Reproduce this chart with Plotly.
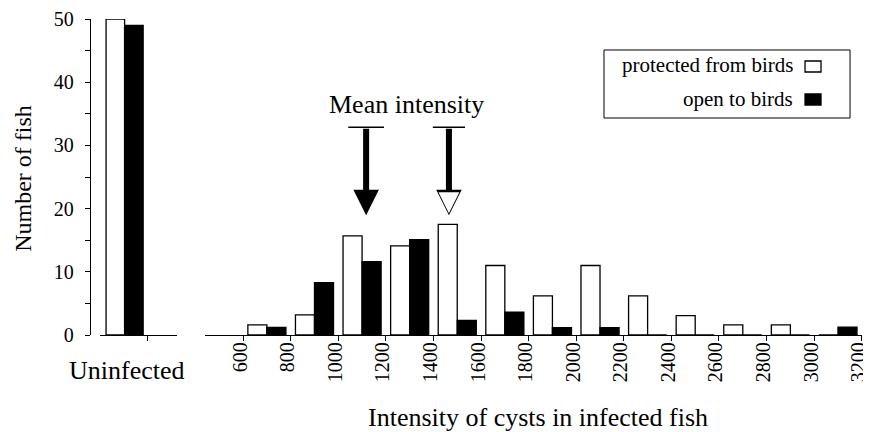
import plotly.graph_objects as go

# ---------------- data ----------------
bin_starts = [600, 800, 1000, 1200, 1400, 1600, 1800, 2000, 2200, 2400, 2600, 2800, 3000]
bin_width = 200
protected_counts = [1.6, 3.2, 15.7, 14.1, 17.5, 11.0, 6.2, 11.0, 6.2, 3.05, 1.6, 1.6, 0]
open_counts = [1.2, 8.3, 11.6, 15.1, 2.3, 3.6, 1.15, 1.15, 0, 0, 0, 0, 1.25]
uninfected_label = ["Uninfected"]
uninfected_protected = [50]
uninfected_open = [49]
mean_open = 1117
mean_protected = 1465
x_tick_vals = [600, 800, 1000, 1200, 1400, 1600, 1800, 2000, 2200, 2400, 2600, 2800, 3000, 3200]
x_tick_text = [str(v) for v in x_tick_vals]
y_tick_vals = [0, 10, 20, 30, 40, 50]
y_minor_vals = [5, 15, 25, 35, 45]
series_names = ["protected from birds", "open to birds"]

bin_centers = [s + bin_width / 2 for s in bin_starts]
label_len = max(len(t) for t in x_tick_text)
x_tick_text_padded = ["\u2007" * (label_len - len(t)) + t for t in x_tick_text]

FONT = "Liberation Serif"
BLACK = "#000000"

fig = go.Figure()

fig.add_trace(go.Bar(x=[0], y=uninfected_protected, name=series_names[0],
                     marker=dict(color="white", line=dict(color=BLACK, width=1.3)),
                     xaxis="x", yaxis="y", showlegend=False))
fig.add_trace(go.Bar(x=[0], y=uninfected_open, name=series_names[1],
                     marker=dict(color=BLACK, line=dict(color=BLACK, width=1.3)),
                     xaxis="x", yaxis="y", showlegend=False))

fig.add_trace(go.Bar(x=bin_centers, y=protected_counts, name=series_names[0],
                     marker=dict(color="white", line=dict(color=BLACK, width=1.3)),
                     xaxis="x2", yaxis="y", showlegend=False))
fig.add_trace(go.Bar(x=bin_centers, y=open_counts, name=series_names[1],
                     marker=dict(color=BLACK, line=dict(color=BLACK, width=1.3)),
                     xaxis="x2", yaxis="y", showlegend=False))

ARROW_TOP = 32.86
ARROW_TIP = 18.96
fig.add_trace(go.Scatter(x=[mean_open], y=[ARROW_TOP], mode="markers",
                         marker=dict(symbol="line-ew", size=25.5, line=dict(color=BLACK, width=1.5)),
                         xaxis="x2", yaxis="y", showlegend=False, hoverinfo="skip"))
fig.add_trace(go.Scatter(x=[mean_protected], y=[ARROW_TOP], mode="markers",
                         marker=dict(symbol="line-ew", size=23, line=dict(color=BLACK, width=1.5)),
                         xaxis="x2", yaxis="y", showlegend=False, hoverinfo="skip"))

axis_common = dict(showgrid=False, zeroline=False, linecolor=BLACK, tickcolor=BLACK,
                   tickwidth=1.3, linewidth=1.3)

yrange = [0, 50]
xr2 = [440, 3201]
fig.update_layout(
    width=863, height=432,
    margin=dict(l=82, r=9, t=11, b=105, autoexpand=False),
    paper_bgcolor="white", plot_bgcolor="white",
    font=dict(family=FONT, color=BLACK, size=20),
    barmode="group", bargap=0.2, bargroupgap=0,
    xaxis=dict(domain=[0.013, 0.1127], range=[-0.53, 1.13], anchor="y",
               showline=True, tickvals=[0.5], ticks="outside", ticklen=5,
               showticklabels=False, **axis_common),
    xaxis3=dict(domain=[0.013, 0.1127], range=[-0.53, 1.13], anchor="y", overlaying="x",
                showline=False, tickvals=[0.5], ticks="inside", ticklen=5,
                showticklabels=False, **axis_common),
    xaxis2=dict(domain=[0.149, 1.0], range=xr2, anchor="y",
                showline=True, tickvals=x_tick_vals, ticktext=x_tick_text_padded,
                ticks="outside", ticklen=5, tickangle=-90, ticklabelstandoff=-7,
                ticklabelshift=-3, ticklabeloverflow="allow",
                tickfont=dict(size=20, family=FONT, color=BLACK), **axis_common),
    xaxis4=dict(domain=[0.149, 1.0], range=xr2, anchor="y", overlaying="x2",
                showline=False, tickvals=x_tick_vals, ticks="inside", ticklen=5,
                showticklabels=False, **axis_common),
    yaxis=dict(domain=[0, 1], range=yrange, anchor="free", position=0,
               showline=True, tickvals=y_tick_vals, ticks="outside", ticklen=5,
               ticklabelstandoff=7,
               minor=dict(tickvals=y_minor_vals, ticks="outside", ticklen=5,
                          tickcolor=BLACK, tickwidth=1.3),
               tickfont=dict(size=20, family=FONT, color=BLACK), **axis_common),
    yaxis3=dict(domain=[0, 1], range=yrange, anchor="free", position=0, overlaying="y",
                showline=False, tickvals=y_tick_vals, ticks="inside", ticklen=5,
                minor=dict(tickvals=y_minor_vals, ticks="inside", ticklen=5,
                           tickcolor=BLACK, tickwidth=1.3),
                showticklabels=False, **axis_common),
)

annotations = []
annotations.append(dict(text="Number of fish", xref="paper", yref="paper", x=-0.0878, y=0.495,
                        textangle=-90, showarrow=False, xanchor="center", yanchor="middle",
                        font=dict(size=24, family=FONT, color=BLACK)))
annotations.append(dict(text="Intensity of cysts in infected fish", xref="paper", yref="paper",
                        x=0.580, y=-0.262, showarrow=False, xanchor="center", yanchor="middle",
                        font=dict(size=26, family=FONT, color=BLACK)))
annotations.append(dict(text=uninfected_label[0], xref="x", yref="paper", x=0.05, y=-0.111,
                        showarrow=False, xanchor="center", yanchor="middle",
                        font=dict(size=26, family=FONT, color=BLACK)))
annotations.append(dict(text="Mean intensity", xref="paper", yref="paper",
                        x=(406.7 - 90) / 772, y=(335 - 104) / 316, showarrow=False,
                        xanchor="center", yanchor="middle",
                        font=dict(size=26, family=FONT, color=BLACK)))

for m in (mean_open, mean_protected):
    annotations.append(dict(text="", x=m, y=ARROW_TIP, xref="x2", yref="y",
                            ax=m, ay=ARROW_TOP, axref="x2", ayref="y",
                            showarrow=True, arrowhead=2, arrowsize=0.85, arrowwidth=6,
                            arrowcolor=BLACK))
annotations.append(dict(text="", x=mean_protected, y=ARROW_TIP, xref="x2", yref="y",
                        ax=mean_protected, ay=ARROW_TIP + 2.3, axref="x2", ayref="y",
                        showarrow=True, arrowhead=2, arrowsize=0.85, arrowwidth=4.9,
                        standoff=2, arrowcolor="white"))

annotations.append(dict(text=series_names[0], xref="paper", yref="paper", x=0.9132, y=0.853,
                        showarrow=False, xanchor="right", yanchor="middle",
                        font=dict(size=21, family=FONT, color=BLACK)))
annotations.append(dict(text=series_names[1], xref="paper", yref="paper", x=0.9132, y=0.748,
                        showarrow=False, xanchor="right", yanchor="middle",
                        font=dict(size=21, family=FONT, color=BLACK)))
fig.update_layout(annotations=annotations)

shapes = [
    dict(type="rect", xref="paper", yref="paper", x0=0.6658, x1=0.9845, y0=0.6867, y1=0.9019,
         line=dict(color=BLACK, width=1), fillcolor="rgba(0,0,0,0)"),
    dict(type="rect", xref="paper", yref="paper", x0=0.9262, x1=0.9469, y0=0.8323, y1=0.8671,
         line=dict(color=BLACK, width=1.3), fillcolor="white"),
    dict(type="rect", xref="paper", yref="paper", x0=0.9262, x1=0.9469, y0=0.7278, y1=0.7627,
         line=dict(color=BLACK, width=1.3), fillcolor=BLACK),
]
fig.update_layout(shapes=shapes)

fig.write_html("out.html")
